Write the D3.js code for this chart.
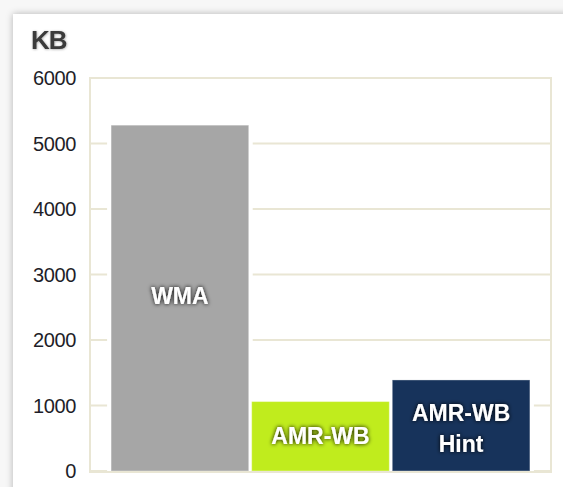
<!DOCTYPE html>
<html>
<head>
<meta charset="utf-8">
<script src="https://cdn.jsdelivr.net/npm/d3@7"></script>
<style>
	html, body { margin: 0; padding: 0; background: #f7f7f7; overflow: hidden; }
	.card {
		position: absolute; left: 13px; top: 14px; width: 600px; height: 520px;
		background: #fff; box-shadow: 0 0 7px rgba(0,0,0,0.28);
	}
	svg { position: absolute; left: 0; top: 0; }
	.tick-label { font-family: "Liberation Sans", Arial, sans-serif; font-size: 20px; fill: #1e1e28; letter-spacing: -0.4px; }
	.bar-label { font-family: "Liberation Sans", Arial, sans-serif; font-size: 23px; font-weight: bold; fill: #fff; }
</style>
</head>
<body>
<div class="card"></div>
<svg width="563" height="487" id="chart"></svg>
<script>
	// data
	var categories = ["WMA", "AMR-WB", "AMR-WB Hint"];
	var barLines = [["WMA"], ["AMR-WB"], ["AMR-WB", "Hint"]];
	var sizes = [5280, 1060, 1390];
	var yTicks = [0, 1000, 2000, 3000, 4000, 5000, 6000];
	var barColors = ["#a6a6a6", "#c0ec1d", "#17335b"];
	var unitLabel = "KB";

	var svg = d3.select("svg#chart"),
		margin = { top: 78, right: 12, bottom: 16, left: 90 },
		width = +svg.attr("width") - margin.left - margin.right,
		height = +svg.attr("height") - margin.top - margin.bottom;

	var defs = svg.append("defs");
	var glow = defs.append("filter").attr("id", "glow")
		.attr("x", "-20%").attr("y", "-40%").attr("width", "140%").attr("height", "180%");
	glow.append("feDropShadow").attr("dx", 0).attr("dy", 0)
		.attr("stdDeviation", 2).attr("flood-color", "#000").attr("flood-opacity", 1);

	var titleGlow = defs.append("filter").attr("id", "tglow");
	titleGlow.append("feDropShadow").attr("dx", 0.5).attr("dy", 0.5)
		.attr("stdDeviation", 0.8).attr("flood-color", "#000").attr("flood-opacity", 0.35);

	var x = d3.scaleBand()
		.domain(categories)
		.range([margin.left, margin.left + width])
		.paddingInner(0.021)
		.paddingOuter(0.15);

	var y = d3.scaleLinear()
		.domain([0, 6000])
		.range([margin.top + height, margin.top]);

	// gridlines
	svg.append("g")
		.selectAll("line")
		.data(yTicks)
		.enter().append("line")
		.attr("x1", margin.left)
		.attr("x2", margin.left + width)
		.attr("y1", function(d) { return y(d); })
		.attr("y2", function(d) { return y(d); })
		.attr("stroke", "#e9e6d4")
		.attr("stroke-width", 2);

	// white halo behind bars breaks the gridlines
	svg.append("g")
		.selectAll("rect")
		.data(sizes)
		.enter().append("rect")
		.attr("x", function(d, i) { return x(categories[i]) - 4; })
		.attr("width", x.bandwidth() + 8)
		.attr("y", function(d) { return y(d) - 4; })
		.attr("height", function(d) { return y(0) - y(d) + 4; })
		.attr("fill", "#fff");

	svg.append("g")
		.selectAll("rect")
		.data(sizes)
		.enter().append("rect")
		.attr("x", function(d, i) { return x(categories[i]); })
		.attr("width", x.bandwidth())
		.attr("y", function(d) { return y(d); })
		.attr("height", function(d) { return y(0) - y(d); })
		.attr("fill", function(d, i) { return barColors[i]; })
		.attr("stroke", "rgba(255,255,255,0.35)")
		.attr("stroke-width", 1);

	// frame
	svg.append("rect")
		.attr("x", margin.left)
		.attr("y", margin.top)
		.attr("width", width)
		.attr("height", height + 1)
		.attr("fill", "none")
		.attr("stroke", "#e9e6d4")
		.attr("stroke-width", 2);

	// y axis labels
	svg.append("g")
		.selectAll("text")
		.data(yTicks)
		.enter().append("text")
		.attr("class", "tick-label")
		.attr("x", 76)
		.attr("y", function(d) { return y(d); })
		.attr("dy", "0.35em")
		.attr("text-anchor", "end")
		.text(function(d) { return d; });

	svg.append("text")
		.attr("x", 31)
		.attr("y", 49)
		.attr("font-family", "'Liberation Sans', Arial, sans-serif")
		.attr("font-size", 26)
		.attr("font-weight", "bold")
		.attr("fill", "#3a3a3a")
		.attr("letter-spacing", -1)
		.attr("filter", "url(#tglow)")
		.text(unitLabel);

	// bar labels
	var labelY = [296, 436, 413];
	barLines.forEach(function(lines, i) {
		var t = svg.append("text")
			.attr("class", "bar-label")
			.attr("text-anchor", "middle")
			.attr("filter", "url(#glow)")
			.attr("x", x(categories[i]) + x.bandwidth() / 2)
			.attr("y", labelY[i]);
		lines.forEach(function(l, j) {
			t.append("tspan")
				.attr("x", x(categories[i]) + x.bandwidth() / 2)
				.attr("dy", j === 0 ? "0.35em" : "1.35em")
				.text(l);
		});
	});
</script>
</body>
</html>
